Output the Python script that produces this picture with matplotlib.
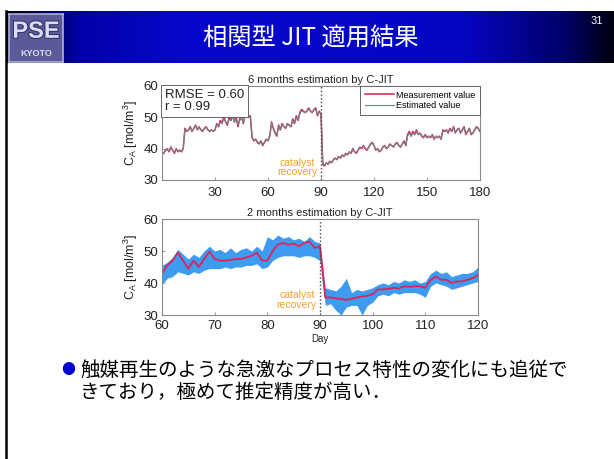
import numpy as np
import matplotlib
matplotlib.use("Agg")
import matplotlib.pyplot as plt
import matplotlib.patheffects as pe
from matplotlib.colors import LinearSegmentedColormap
from matplotlib.lines import Line2D

plt.rcParams['font.family'] = ['Liberation Sans', 'Noto Sans CJK JP', 'DejaVu Sans']
plt.rcParams['mathtext.default'] = 'regular'

# ---- 6 months: daily C_A, measurement vs C-JIT estimate (days 1..180) ----
meas_6m = [
    38.5, 39.5, 40.0, 39.0, 40.5, 39.5, 38.5, 40.0, 39.0, 39.5,
    39.0, 40.0, 46.5, 45.5, 46.0, 47.0, 45.5, 46.5, 47.5, 46.0,
    47.0, 46.0, 45.5, 46.5, 47.0, 46.0, 45.5, 46.0, 45.5, 46.0,
    48.0, 47.0, 49.0, 48.0, 50.5, 48.5, 47.5, 50.0, 49.0, 51.0,
    48.5, 50.0, 47.0, 49.5, 50.5, 48.0, 50.5, 51.0, 50.0, 50.5,
    43.5, 42.5, 43.0, 42.0, 41.5, 42.5, 41.0, 42.0, 43.0, 42.5,
    44.0, 48.5, 46.5, 45.0, 44.0, 47.5, 46.0, 48.0, 47.0, 46.5,
    48.0, 47.5, 47.0, 49.5, 48.0, 50.5, 49.0, 51.5, 52.5, 52.0,
    51.5, 52.0, 53.0, 52.0, 51.5, 52.5, 53.0, 50.5, 52.0, 51.0,
    35.0, 34.5, 35.5, 35.0, 36.0, 35.5, 36.5, 37.0, 36.5, 37.5,
    37.0, 38.0, 37.5, 38.5, 38.0, 39.0, 38.5, 40.0, 39.0, 38.5,
    39.5, 40.5, 40.0, 41.0, 40.0, 39.5, 40.5, 41.5, 42.0, 41.0,
    39.5, 40.0, 39.0, 39.5, 40.5, 41.0, 40.0, 40.5, 41.5, 41.0,
    40.5, 41.5, 42.0, 41.0, 40.5, 41.5, 42.5, 41.0, 44.5, 45.5,
    44.0, 45.5, 44.5, 46.0, 44.5, 45.0, 44.0, 43.5, 44.5, 43.5,
    44.0, 43.5, 44.5, 43.0, 44.0, 43.5, 44.0, 43.0, 46.0, 45.5,
    46.0, 45.0, 46.5, 45.5, 47.0, 45.0, 46.0, 46.5, 45.0, 46.0,
    47.0, 44.5, 45.5, 46.5, 44.5, 45.0, 46.0, 47.0, 46.5, 45.5,
]
est_6m = [
    38.6, 39.3, 39.8, 39.2, 40.2, 39.5, 38.8, 39.8, 39.1, 39.5,
    39.2, 40.0, 46.2, 45.7, 46.0, 46.7, 45.7, 46.4, 47.2, 46.1,
    46.8, 46.1, 45.7, 46.4, 46.8, 46.0, 45.7, 46.0, 45.6, 46.0,
    47.8, 47.3, 48.5, 48.1, 49.6, 48.6, 47.9, 49.3, 48.9, 50.0,
    48.7, 49.4, 47.6, 49.0, 49.8, 48.3, 49.9, 50.4, 49.9, 50.2,
    43.7, 42.7, 43.0, 42.2, 41.7, 42.4, 41.3, 42.0, 42.8, 42.6,
    44.2, 48.0, 46.5, 45.2, 44.3, 47.1, 46.1, 47.7, 47.0, 46.6,
    47.8, 47.5, 47.1, 49.0, 48.1, 50.1, 49.1, 51.1, 52.1, 51.8,
    51.5, 51.9, 52.6, 52.0, 51.6, 52.3, 52.6, 50.8, 51.8, 51.0,
    35.3, 34.8, 35.4, 35.1, 35.9, 35.6, 36.4, 36.9, 36.6, 37.3,
    37.1, 37.9, 37.6, 38.4, 38.1, 38.9, 38.6, 39.8, 39.0, 38.7,
    39.5, 40.3, 40.0, 40.8, 40.1, 39.7, 40.4, 41.3, 41.8, 41.0,
    39.7, 40.0, 39.2, 39.6, 40.4, 40.8, 40.1, 40.5, 41.3, 41.0,
    40.6, 41.3, 41.8, 41.1, 40.7, 41.4, 42.2, 41.2, 44.0, 45.0,
    44.1, 45.0, 44.5, 45.4, 44.6, 44.9, 44.2, 43.7, 44.3, 43.7,
    44.0, 43.6, 44.3, 43.2, 43.9, 43.6, 43.9, 43.2, 45.6, 45.4,
    45.9, 45.2, 46.2, 45.6, 46.6, 45.2, 45.9, 46.3, 45.2, 45.9,
    46.6, 44.8, 45.5, 46.3, 44.8, 45.1, 45.9, 46.7, 46.4, 45.6,
]

# ---- 2 months (days 60..120): daily measurement and band of hourly estimates ----
days_2m = list(range(60, 121))
meas_2m = [
    43.0, 45.5, 47.0, 49.5, 47.0, 44.5, 47.0, 45.0, 47.5, 49.8,
    47.5, 47.0, 47.0, 47.2, 47.5, 47.5, 48.0, 48.5, 49.5, 47.0,
    47.0, 50.0, 52.0, 52.5, 52.0, 52.3, 51.5, 52.5, 53.0, 51.0,
    51.5, 35.5, 35.5, 35.2, 35.0, 34.7, 35.0, 35.5, 35.8, 36.0,
    36.5, 38.0, 38.0, 38.2, 38.5, 38.3, 39.0, 38.8, 39.0, 39.0,
    38.5, 41.0, 42.0, 41.0, 41.0, 40.0, 40.5, 40.5, 41.0, 41.5,
    42.5,
]
est_hi_2m = [
    45.5, 46.5, 48.0, 50.5, 49.0, 47.5, 49.0, 48.0, 50.0, 51.5,
    50.0, 50.5, 49.5, 51.0, 49.5, 50.5, 51.0, 50.0, 51.5, 50.0,
    54.5, 53.5, 55.0, 54.0, 54.5, 53.5, 54.0, 53.0, 54.5, 53.0,
    52.5, 38.5, 38.0, 37.5, 39.0, 41.5, 37.0, 38.0, 37.5, 38.0,
    38.5, 39.5, 40.0, 39.5, 40.5, 40.0, 41.0, 40.5, 41.0, 40.0,
    40.5, 43.0, 44.0, 43.0, 43.5, 42.0, 42.5, 43.0, 43.0, 43.5,
    45.0,
]
est_lo_2m = [
    39.5, 41.5, 42.0, 43.5, 43.0, 42.5, 43.5, 43.0, 44.0, 44.5,
    44.5, 44.5, 45.0, 44.5, 45.0, 45.0, 45.5, 45.5, 46.0, 44.5,
    45.0, 47.0, 48.0, 48.5, 48.5, 48.5, 48.0, 48.5, 48.5, 48.0,
    47.0, 33.0, 33.5, 31.5, 30.0, 32.5, 33.0, 33.0, 30.0, 33.0,
    34.0, 36.0, 36.5, 36.0, 37.0, 36.5, 37.0, 37.0, 37.0, 36.5,
    35.5, 39.0, 40.0, 39.5, 39.0, 38.0, 38.5, 39.0, 39.5, 40.0,
    40.5,
]

rmse_text = "RMSE = 0.60\nr = 0.99"
event_day = 90
title_jp = "相関型 JIT 適用結果"
bullet_lines = ["触媒再生のような急激なプロセス特性の変化にも追従で",
                "きており，極めて推定精度が高い．"]

W, H = 614, 459
fig = plt.figure(figsize=(W / 100, H / 100), dpi=100)
fig.patch.set_facecolor("white")


def box(x0, y0, x1, y1):
    """pixel box measured from the top-left -> figure fraction rect"""
    return [x0 / W, 1 - y1 / H, (x1 - x0) / W, (y1 - y0) / H]


# slide header bar with horizontal gradient
hdr = fig.add_axes(box(6, 11, 614, 63))
cmap = LinearSegmentedColormap.from_list(
    "hdr", [(0, "#000008"), (0.12, "#0000a8"), (0.3, "#0808cc"),
            (0.75, "#0505c4"), (0.92, "#00006a"), (1, "#000010")])
hdr.imshow(np.linspace(0, 1, 256)[None, :], aspect="auto", cmap=cmap,
           extent=(0, 1, 0, 1))
hdr.axis("off")

# left slide border
fig.add_artist(Line2D([6 / W, 6 / W], [0, 1 - 11 / H], color="black", lw=1.8,
                      transform=fig.transFigure))

# logo block
logo = fig.add_axes(box(9, 14, 63, 62))
logo.set_facecolor("#5a5a98")
logo.set_xticks([])
logo.set_yticks([])
for s in logo.spines.values():
    s.set_color("#b0b0d8")
    s.set_linewidth(1.2)
logo.text(0.5, 0.64, "PSE", ha="center", va="center", fontsize=17,
          fontweight="bold", color="#dcdcf2",
          path_effects=[pe.withStroke(linewidth=1.5, foreground="#30306a")])
logo.text(0.5, 0.18, "KYOTO", ha="center", va="center", fontsize=6.5,
          fontweight="bold", color="#dcdcf2")

fig.text(311 / W, 1 - 38 / H, title_jp, color="white", fontsize=17.5,
         ha="center", va="center", family=["Noto Sans CJK JP", "DejaVu Sans"])
fig.text(597 / W, 1 - 21 / H, "31", color="white", fontsize=8,
         ha="center", va="center")

tick_col = "#222222"
spine_col = "#8a8a8a"


def style(ax, xpad):
    for s in ax.spines.values():
        s.set_color(spine_col)
        s.set_linewidth(0.8)
    ax.tick_params(direction="in", length=2.5, width=0.6, labelsize=9.5,
                   colors=tick_col, color=spine_col, pad=2.5)
    ax.tick_params(axis="x", pad=xpad)
    ax.set_ylim(30, 60)
    ax.set_yticks([30, 40, 50, 60])
    ax.set_ylabel(r"C$_{A}$ [mol/m$^3$]", fontsize=9, color=tick_col, labelpad=3)
    ax.axvline(event_day, color="#444444", ls=":", lw=1.0, zorder=3)


# top: 6 months
ax1 = fig.add_axes(box(162, 86, 480, 180))
days_6m = np.arange(1, len(meas_6m) + 1)
ax1.plot(days_6m, meas_6m, color="#d42050", lw=1.1, label="Measurement value")
ax1.plot(days_6m, est_6m, color="#6e8a84", lw=0.8, label="Estimated value")
ax1.set_xlim(0, 180)
ax1.set_xticks([30, 60, 90, 120, 150, 180])
style(ax1, 5)
ax1.set_title("6 months estimation by C-JIT", fontsize=8, color=tick_col, pad=2)
ax1.text(event_day - 2.3, 34.1, "catalyst\nrecovery", ha="right", va="center",
         color="#f0a030", fontsize=7.5, linespacing=0.9, multialignment="center")
ax1.text(0.008, 0.965, rmse_text, transform=ax1.transAxes, ha="left", va="top",
         fontsize=9.5, color=tick_col, linespacing=1.0, zorder=6,
         bbox=dict(boxstyle="square,pad=0.3", fc="white", ec="#666666", lw=0.7))
leg = ax1.legend(loc="upper right", bbox_to_anchor=(1, 1), borderaxespad=0,
                 fontsize=6.5, handlelength=3.2, fancybox=False, framealpha=1,
                 edgecolor="#666666", borderpad=0.5, labelspacing=0.2,
                 handletextpad=0.3)
leg.get_frame().set_linewidth(0.7)
leg.set_zorder(6)

# bottom: 2 months
ax2 = fig.add_axes(box(162, 219, 478, 315))
ax2.fill_between(days_2m, est_lo_2m, est_hi_2m, color="#3d9cf0", lw=0)
ax2.plot(days_2m, meas_2m, color="#e02258", lw=1.3)
ax2.set_xlim(60, 120)
ax2.set_xticks(range(60, 121, 10))
style(ax2, 3.5)
ax2.set_title("2 months estimation by C-JIT", fontsize=8, color=tick_col, pad=2)
ax2.set_xlabel("Day", fontsize=7, color=tick_col, labelpad=1.5)
ax2.text(event_day - 0.6, 34.7, "catalyst\nrecovery", ha="right", va="center",
         color="#f0a030", fontsize=7.5, linespacing=0.9, multialignment="center")

# bullet comment
jp = ["Noto Sans CJK JP", "DejaVu Sans"]
fig.text(61 / W, 1 - 370 / H, "●", color="#0000cc", fontsize=10,
         ha="left", va="center", family=jp)
for i, line in enumerate(bullet_lines):
    fig.text(80 / W, 1 - (370 + 22 * i) / H, line, fontsize=14, color="black",
             ha="left", va="center", family=jp)

fig.savefig("out.png", dpi=100)
